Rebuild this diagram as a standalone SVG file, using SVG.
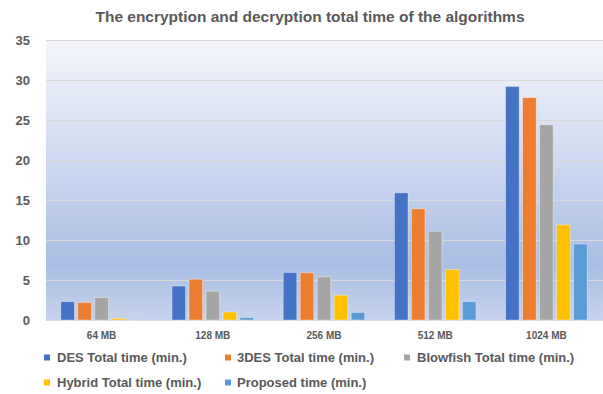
<svg xmlns="http://www.w3.org/2000/svg" width="603" height="394" viewBox="0 0 603 394">
  <defs>
    <linearGradient id="bg" x1="0" y1="0" x2="0" y2="1">
      <stop offset="0" stop-color="#F4F6FB"/>
      <stop offset="0.55" stop-color="#C3D1EC"/>
      <stop offset="0.8" stop-color="#A9BEE3"/>
      <stop offset="1" stop-color="#C6D3EC"/>
    </linearGradient>
    <style>
      .t { font-family: "Liberation Sans", Arial, sans-serif; fill: #595959; font-weight: bold; }
      .ytick { font-size: 13px; text-anchor: end; }
      .xtick { font-size: 10px; text-anchor: middle; }
      .leg { font-size: 13px; }
      .grid { stroke: #D9D9D9; stroke-width: 1; }
      .bar { stroke-width: 0.8; stroke-opacity: 0.45; stroke: #FFFFFF; }
      .des { fill: #4472C4; }
      .tdes { fill: #ED7D31; }
      .blow { fill: #A5A5A5; }
      .hyb { fill: #FFC000; }
      .prop { fill: #5B9BD5; }
    </style>
  </defs>
  <rect width="603" height="394" fill="#FFFFFF"/>
  <text class="t" x="310" y="22" font-size="14" text-anchor="middle" textLength="429" lengthAdjust="spacingAndGlyphs">The encryption and decryption total time of the algorithms</text>

  <g id="plot">
    <rect x="46" y="40" width="557" height="280" fill="url(#bg)"/>
    <g id="gridlines">
      <line class="grid" x1="46" y1="40.5" x2="603" y2="40.5"/>
      <line class="grid" x1="46" y1="80.5" x2="603" y2="80.5"/>
      <line class="grid" x1="46" y1="120.5" x2="603" y2="120.5"/>
      <line class="grid" x1="46" y1="160.5" x2="603" y2="160.5"/>
      <line class="grid" x1="46" y1="200.5" x2="603" y2="200.5"/>
      <line class="grid" x1="46" y1="240.5" x2="603" y2="240.5"/>
      <line class="grid" x1="46" y1="280.5" x2="603" y2="280.5"/>
      <line class="grid" x1="46" y1="320.5" x2="603" y2="320.5"/>
    </g>
  </g>

  <g id="y-axis">
    <text class="t ytick" x="30" y="44.5">35</text>
    <text class="t ytick" x="30" y="84.5">30</text>
    <text class="t ytick" x="30" y="124.5">25</text>
    <text class="t ytick" x="30" y="164.5">20</text>
    <text class="t ytick" x="30" y="204.5">15</text>
    <text class="t ytick" x="30" y="244.5">10</text>
    <text class="t ytick" x="30" y="284.5">5</text>
    <text class="t ytick" x="30" y="324.5">0</text>
  </g>

  <g id="x-axis">
    <text class="t xtick" x="101.6" y="338.5">64 MB</text>
    <text class="t xtick" x="212.8" y="338.5">128 MB</text>
    <text class="t xtick" x="324" y="338.5">256 MB</text>
    <text class="t xtick" x="435.2" y="338.5">512 MB</text>
    <text class="t xtick" x="546.4" y="338.5">1024 MB</text>
  </g>

  <g id="series-des">
    <rect class="bar des" x="60.8" y="301.6" width="13.6" height="18.4"/>
    <rect class="bar des" x="172" y="286" width="13.6" height="34"/>
    <rect class="bar des" x="283.2" y="272.4" width="13.6" height="47.6"/>
    <rect class="bar des" x="394.4" y="192.8" width="13.6" height="127.2"/>
    <rect class="bar des" x="505.6" y="86.4" width="13.6" height="233.6"/>
  </g>
  <g id="series-3des">
    <rect class="bar tdes" x="77.8" y="302.4" width="13.6" height="17.6"/>
    <rect class="bar tdes" x="189" y="279.2" width="13.6" height="40.8"/>
    <rect class="bar tdes" x="300.2" y="272.8" width="13.6" height="47.2"/>
    <rect class="bar tdes" x="411.4" y="208.8" width="13.6" height="111.2"/>
    <rect class="bar tdes" x="522.6" y="97.6" width="13.6" height="222.4"/>
  </g>
  <g id="series-blowfish">
    <rect class="bar blow" x="94.8" y="297.6" width="13.6" height="22.4"/>
    <rect class="bar blow" x="206" y="291.2" width="13.6" height="28.8"/>
    <rect class="bar blow" x="317.2" y="276.8" width="13.6" height="43.2"/>
    <rect class="bar blow" x="428.4" y="231.2" width="13.6" height="88.8"/>
    <rect class="bar blow" x="539.6" y="124.8" width="13.6" height="195.2"/>
  </g>
  <g id="series-hybrid">
    <rect class="bar hyb" x="111.8" y="318.4" width="13.6" height="1.6"/>
    <rect class="bar hyb" x="223" y="312" width="13.6" height="8"/>
    <rect class="bar hyb" x="334.2" y="295.2" width="13.6" height="24.8"/>
    <rect class="bar hyb" x="445.4" y="269.6" width="13.6" height="50.4"/>
    <rect class="bar hyb" x="556.6" y="224.8" width="13.6" height="95.2"/>
  </g>
  <g id="series-proposed">
    <rect class="bar prop" x="128.8" y="319.6" width="13.6" height="0.4"/>
    <rect class="bar prop" x="240" y="317.6" width="13.6" height="2.4"/>
    <rect class="bar prop" x="351.2" y="312.4" width="13.6" height="7.6"/>
    <rect class="bar prop" x="462.4" y="301.6" width="13.6" height="18.4"/>
    <rect class="bar prop" x="573.6" y="244" width="13.6" height="76"/>
  </g>

  <g id="legend">
    <g id="legend-des">
      <rect class="des" x="44" y="354.5" width="6" height="6"/>
      <text class="t leg" x="57" y="362">DES Total time (min.)</text>
    </g>
    <g id="legend-3des">
      <rect class="tdes" x="225" y="354.5" width="6" height="6"/>
      <text class="t leg" x="237" y="362">3DES Total time (min.)</text>
    </g>
    <g id="legend-blowfish">
      <rect class="blow" x="404" y="354.5" width="6" height="6"/>
      <text class="t leg" x="417" y="362">Blowfish Total time (min.)</text>
    </g>
    <g id="legend-hybrid">
      <rect class="hyb" x="44" y="379.5" width="6" height="6"/>
      <text class="t leg" x="57" y="387">Hybrid Total time (min.)</text>
    </g>
    <g id="legend-proposed">
      <rect class="prop" x="225" y="379.5" width="6" height="6"/>
      <text class="t leg" x="237" y="387">Proposed time (min.)</text>
    </g>
  </g>
</svg>
